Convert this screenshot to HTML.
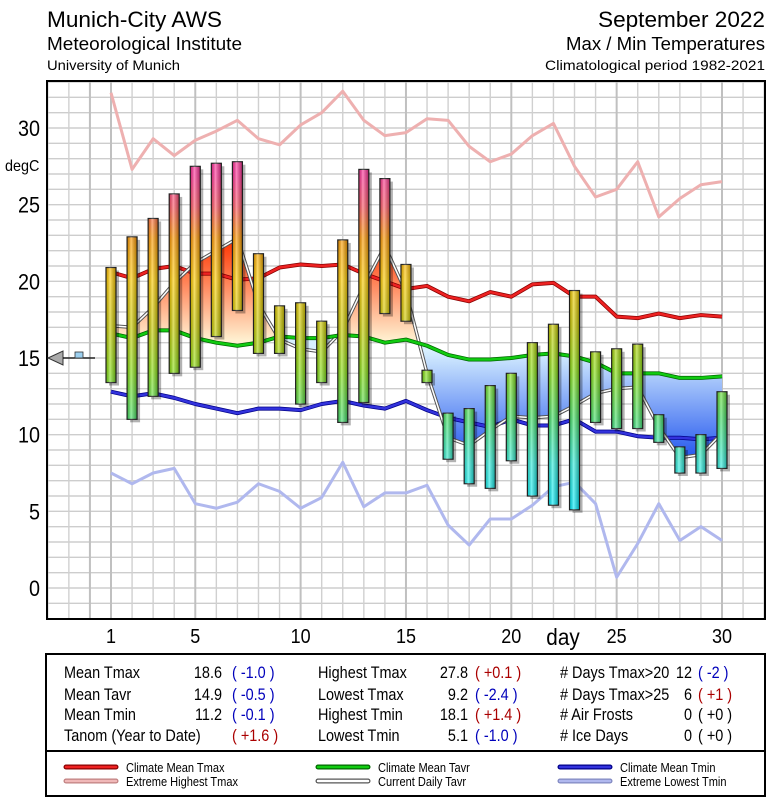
<!DOCTYPE html>
<html><head><meta charset="utf-8"><style>
html,body{margin:0;padding:0;background:#fff;}
svg{display:block;font-family:"Liberation Sans",sans-serif;}
</style></head><body>
<svg id="chart" width="775" height="800" viewBox="0 0 775 800" xmlns="http://www.w3.org/2000/svg">
<defs>
  <linearGradient id="barGrad" gradientUnits="userSpaceOnUse" x1="0" y1="588" x2="0" y2="128">
    <stop offset="0" stop-color="#00eeff"/>
    <stop offset="0.17" stop-color="#00eeff"/>
    <stop offset="0.27" stop-color="#30eedd"/>
    <stop offset="0.37" stop-color="#44e066"/>
    <stop offset="0.47" stop-color="#88e011"/>
    <stop offset="0.57" stop-color="#cccc00"/>
    <stop offset="0.67" stop-color="#ffcc00"/>
    <stop offset="0.76" stop-color="#ff9900"/>
    <stop offset="0.83" stop-color="#ff5566"/>
    <stop offset="0.9" stop-color="#ff3399"/>
    <stop offset="1" stop-color="#ff3399"/>
  </linearGradient>
  <linearGradient id="shine" x1="0" y1="0" x2="1" y2="0">
    <stop offset="0" stop-color="#000" stop-opacity="0.15"/>
    <stop offset="0.4" stop-color="#fff" stop-opacity="0.4"/>
    <stop offset="1" stop-color="#000" stop-opacity="0.3"/>
  </linearGradient>
  <linearGradient id="warmGrad" gradientUnits="userSpaceOnUse" x1="0" y1="240" x2="0" y2="340">
    <stop offset="0" stop-color="#ff3300"/>
    <stop offset="1" stop-color="#fff0d0"/>
  </linearGradient>
  <linearGradient id="coldGrad" gradientUnits="userSpaceOnUse" x1="0" y1="350" x2="0" y2="460">
    <stop offset="0" stop-color="#d8f0ff"/>
    <stop offset="1" stop-color="#2255ee"/>
  </linearGradient>
  <clipPath id="plotClip"><rect x="47" y="81" width="718" height="538"/></clipPath>
</defs>
<rect x="0" y="0" width="775" height="800" fill="#fff"/>
<g id="header">
  <text x="47" y="27" font-size="22" textLength="175" lengthAdjust="spacingAndGlyphs">Munich-City AWS</text>
  <text x="47" y="50" font-size="18" textLength="195" lengthAdjust="spacingAndGlyphs">Meteorological Institute</text>
  <text x="47" y="70" font-size="14" textLength="133" lengthAdjust="spacingAndGlyphs">University of Munich</text>
  <text x="598" y="27" font-size="22" textLength="167" lengthAdjust="spacingAndGlyphs">September 2022</text>
  <text x="566" y="50" font-size="18" textLength="199" lengthAdjust="spacingAndGlyphs">Max / Min Temperatures</text>
  <text x="545" y="70" font-size="14" textLength="220" lengthAdjust="spacingAndGlyphs">Climatological period 1982-2021</text>
</g>
<g id="grid"></g>
<g id="plot" clip-path="url(#plotClip)"></g>
<rect x="47" y="81" width="718" height="538" fill="none" stroke="#000" stroke-width="2"/>
<g id="axes"></g>
<g id="table"></g>
</svg>
<script>
const days = [];
for (let d = 1; d <= 30; d++) days.push(d);
const tmax = [20.9,22.9,24.1,25.7,27.5,27.7,27.8,21.8,18.4,18.6,17.4,22.7,27.3,26.7,21.1,14.2,11.4,11.7,13.2,14.0,16.0,17.2,19.4,15.4,15.6,15.9,11.3,9.2,10.0,12.8];
const tmin = [13.4,11.0,12.5,14.0,14.4,16.4,18.1,15.3,15.3,12.0,13.4,10.8,12.1,17.9,17.4,13.4,8.4,6.8,6.5,8.3,6.0,5.4,5.1,10.8,10.4,10.4,9.5,7.5,7.5,7.8];
const tavr = [17.1,17.0,18.3,19.9,21.2,22.0,22.8,18.5,16.2,15.6,15.4,16.8,19.7,22.3,19.3,14.0,9.8,9.3,10.3,11.2,11.1,11.2,11.9,12.7,13.0,13.1,10.5,8.5,8.7,10.1];
const climTmax = [20.6,20.2,20.8,21.0,20.5,20.5,20.1,20.2,20.9,21.1,21.0,21.1,20.5,20.0,19.5,19.7,19.0,18.7,19.3,19.0,19.8,19.9,19.0,19.0,17.7,17.6,17.9,17.6,17.8,17.7];
const climTavr = [16.6,16.3,16.8,16.8,16.3,16.0,15.8,16.0,16.4,16.3,16.3,16.5,16.4,16.0,16.2,15.8,15.2,14.9,14.9,15.0,15.2,15.3,15.1,14.7,14.0,14.0,14.0,13.7,13.7,13.8];
const climTmin = [12.8,12.5,12.7,12.4,12.0,11.7,11.4,11.7,11.7,11.6,12.0,12.2,11.9,11.7,12.2,11.6,11.1,10.8,10.5,11.0,10.6,10.6,11.0,10.2,10.2,9.9,9.8,9.8,9.7,9.8];
const extMax = [32.3,27.3,29.3,28.2,29.2,29.8,30.5,29.3,28.9,30.2,31.0,32.4,30.5,29.5,29.7,30.6,30.5,28.8,27.8,28.3,29.5,30.3,27.5,25.5,26.0,27.8,24.2,25.4,26.3,26.5];
const extMin = [7.5,6.8,7.5,7.8,5.5,5.2,5.6,6.8,6.3,5.2,5.9,8.2,5.3,6.2,6.2,6.7,4.1,2.8,4.5,4.5,5.4,6.6,6.9,5.5,0.7,2.9,5.5,3.1,4.0,3.1];
const yTicks = [0,5,10,15,20,25,30];
const xTicks = [1,5,10,15,20,25,30];
const tanomValue = 15;

const NS = "http://www.w3.org/2000/svg";
const X = d => 111 + (d - 1) * (611 / 29);
const Y = t => 588 - t * (460 / 30);
function mk(tag, attrs, parent) {
  const e = document.createElementNS(NS, tag);
  for (const k in attrs) e.setAttribute(k, attrs[k]);
  parent.appendChild(e);
  return e;
}
const grid = document.getElementById('grid');
const plot = document.getElementById('plot');
const axes = document.getElementById('axes');
const table = document.getElementById('table');

for (let t = -2; t <= 33; t++) {
  const l = mk('line', {x1:47, x2:765, y1:Y(t), y2:Y(t), stroke:'#cdcdcd', 'stroke-width':1.4}, grid);
  
  
}
for (let d = -2; d <= 32; d++) {
  const x = X(d);
  if (x < 47 || x > 765) continue;
  const l = mk('line', {x1:x, x2:x, y1:81, y2:619, stroke:(d%5===0||d===1)?'#c0c0c0':'#d0d0d0', 'stroke-width':(d%5===0||d===1)?2:1.4}, grid);
  
  
}

function pts(arr) { return arr.map((v,i) => X(days[i]) + ',' + Y(v)).join(' '); }

const climLine = pts(climTavr);
const curLine = pts(tavr);
const polyArea = curLine + ' ' + climTavr.map((v,i)=>[X(days[i]),Y(v)]).reverse().map(p=>p.join(',')).join(' ');
const defs = document.querySelector('defs');
const cpA = mk('clipPath', {id:'aboveClip'}, defs);
mk('polygon', {points: X(1)+',0 ' + climLine + ' ' + X(30)+',0'}, cpA);
const cpB = mk('clipPath', {id:'belowClip'}, defs);
mk('polygon', {points: X(1)+',800 ' + climLine + ' ' + X(30)+',800'}, cpB);
const warm = mk('polygon', {points: polyArea, fill:'url(#warmGrad)', 'clip-path':'url(#aboveClip)'}, plot);


const cold = mk('polygon', {points: polyArea, fill:'url(#coldGrad)', 'clip-path':'url(#belowClip)'}, plot);



function series(arr, color, w, name) {
  const p = mk('polyline', {points: pts(arr), fill:'none', stroke:color, 'stroke-width':w, 'stroke-linejoin':'round'}, plot);
  
  
  return p;
}
series(extMax, '#eeb0b0', 3, 'extreme-highest-tmax-line');
series(extMin, '#b0b8ee', 3, 'extreme-lowest-tmin-line');
series(climTmax, '#880000', 4, 'climate-mean-tmax-shadow');
series(climTmax, '#ee2222', 2.5, 'climate-mean-tmax-line');
series(climTmin, '#000088', 4, 'climate-mean-tmin-shadow');
series(climTmin, '#3333dd', 2.5, 'climate-mean-tmin-line');
series(tavr, '#555', 3.5, 'current-tavr-outline');
series(tavr, '#fff', 1.5, 'current-daily-tavr-line');
series(climTavr, '#006600', 4, 'climate-mean-tavr-shadow');
series(climTavr, '#11cc11', 2.5, 'climate-mean-tavr-line');

days.forEach((d,i) => {
  const x = X(d) - 5, y1 = Y(tmax[i]), y2 = Y(tmin[i]);
  const sh = mk('rect', {x:x+3, y:y1+3, width:10, height:y2-y1, fill:'#000', opacity:0.3}, plot);
  
  
  const b = mk('rect', {x:x, y:y1, width:10, height:y2-y1, fill:'url(#barGrad)', stroke:'#222', 'stroke-width':1.2}, plot);
  
  
  const s = mk('rect', {x:x, y:y1, width:10, height:y2-y1, fill:'url(#shine)'}, plot);
  
  
});

const ty = Y(tanomValue);
const tri = mk('polygon', {points:`48,${ty} 63,${ty-7} 63,${ty+7}`, fill:'#aaa', stroke:'#333', 'stroke-width':1}, axes);


const tl = mk('line', {x1:63, x2:95, y1:ty, y2:ty, stroke:'#000', 'stroke-width':1.3}, axes);


const tq = mk('rect', {x:75, y:ty-6, width:8, height:6, fill:'#9cd0f0', stroke:'#333', 'stroke-width':0.8}, axes);



function txt(parent, x, y, s, size, anchor, color, sx) {
  const t = mk('text', {transform:`translate(${x},${y}) scale(${sx||0.85},1)`, 'font-size':size, 'text-anchor':anchor||'start', fill:color||'#000'}, parent);
  t.textContent = s;
  return t;
}
yTicks.forEach(v => {
  const t = txt(axes, 40, Y(v)+8, String(v), 22, 'end', '#000', 0.9);
  
  
});
const yt = txt(axes, 5, 171, 'degC', 16, 'start', '#000', 0.9);


xTicks.forEach(v => {
  const t = txt(axes, X(v), 643, String(v), 20, 'middle', '#000', 0.9);
  
  
});
const xt = txt(axes, 563, 645, 'day', 23, 'middle', '#000', 0.9);



const box = mk('rect', {x:46, y:654, width:719, height:142, fill:'#fff', stroke:'#000', 'stroke-width':2}, table);


const dv = mk('line', {x1:46, x2:765, y1:751, y2:751, stroke:'#000', 'stroke-width':2}, table);


const R='#aa0000', B='#0000bb', K='#000';
const rows = [
  [64,'Mean Tmax',222,'18.6',232,'( -1.0 )',B],
  [64,'Mean Tavr',222,'14.9',232,'( -0.5 )',B],
  [64,'Mean Tmin',222,'11.2',232,'( -0.1 )',B],
  [318,'Highest Tmax',468,'27.8',475,'( +0.1 )',R],
  [318,'Lowest Tmax',468,'9.2',475,'( -2.4 )',B],
  [318,'Highest Tmin',468,'18.1',475,'( +1.4 )',R],
  [318,'Lowest Tmin',468,'5.1',475,'( -1.0 )',B],
  [560,'# Days Tmax>20',692,'12',698,'( -2 )',B],
  [560,'# Days Tmax>25',692,'6',698,'( +1 )',R],
  [560,'# Air Frosts',692,'0',698,'( +0 )',K],
  [560,'# Ice Days',692,'0',698,'( +0 )',K]
];
const rowY = [678,700,720,741];
let colRow = {64:0,318:0,560:0};
rows.forEach(r => {
  const y = rowY[colRow[r[0]]++];
  const a = txt(table, r[0], y, r[1], 17, 'start', '#000');
  
  
  const b = txt(table, r[2], y, r[3], 17, 'end', '#000');
  
  
  const c = txt(table, r[4], y, r[5], 17, 'start', r[6]);
  
  
});
const ta = txt(table, 64, 741, 'Tanom (Year to Date)', 17, 'start', '#000');


const tb = txt(table, 232, 741, '( +1.6 )', 17, 'start', R);



const legend = [
  [66,767,'#ee2222','#880000','Climate Mean Tmax'],
  [66,781,'#f0b8b8','#c08080','Extreme Highest Tmax'],
  [318,767,'#11cc11','#006600','Climate Mean Tavr'],
  [318,781,'#ffffff','#555555','Current Daily Tavr'],
  [560,767,'#3333dd','#000088','Climate Mean Tmin'],
  [560,781,'#b0b8ee','#8088c0','Extreme Lowest Tmin']
];
legend.forEach(l => {
  const s = mk('line', {x1:l[0], x2:l[0]+50, y1:l[1], y2:l[1], stroke:l[3], 'stroke-width':5, 'stroke-linecap':'round'}, table);
  
  
  const s2 = mk('line', {x1:l[0], x2:l[0]+50, y1:l[1], y2:l[1], stroke:l[2], 'stroke-width':2.5, 'stroke-linecap':'round'}, table);
  
  
  const t = txt(table, l[0]+60, l[1]+5, l[4], 13, 'start', '#000', 0.85);
  
  
});
</script>
</body></html>
